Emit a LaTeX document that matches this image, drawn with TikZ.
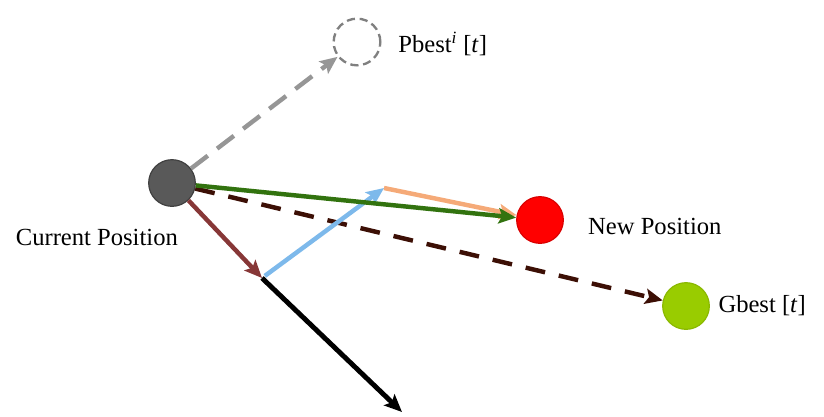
\documentclass[tikz,border=0pt]{standalone}
\usepackage{fontspec}
\setmainfont{Liberation Serif}
\usepackage{xcolor}
\usetikzlibrary{positioning,arrows.meta}

\definecolor{curgray}{RGB}{89,89,89}
\definecolor{pbgray}{RGB}{150,150,150}
\definecolor{velgreen}{RGB}{50,115,15}
\definecolor{gbbrown}{RGB}{60,15,5}
\definecolor{oldmaroon}{RGB}{135,55,55}
\definecolor{socblue}{RGB}{125,185,235}
\definecolor{cogorange}{RGB}{245,170,120}
\definecolor{gbgreen}{RGB}{153,204,0}

\tikzset{
  ptc/.style={circle,minimum size=1.4cm,inner sep=0pt,line width=1pt},
  lbl/.style={inner sep=0pt,font=\fontsize{21}{25}\selectfont},
  vec/.style={line width=3.8pt,-{Stealth[length=15pt,width=13pt,inset=3pt]}},
}

\begin{document}
\begin{tikzpicture}[x=0.03cm,y=-0.03cm]
\useasboundingbox (0,0) rectangle (824,416);
\node[ptc,fill=curgray,draw=black!75] (cur) at (172,183) {};
\node[ptc,draw=gray,dash pattern=on 7pt off 4pt,line width=2pt] (pbest) at (357,42) {};
\node[ptc,fill=red,draw=red!85!black] (newpos) at (540,220) {};
\node[ptc,fill=gbgreen,draw=gbgreen!90!black] (gbest) at (686,306) {};
\node[lbl,right=0.5cm of pbest,yshift=-0.06cm] (pbestlbl) {Pbest\textsuperscript{\textit{i}} [\textit{t}]};
\node[lbl,right=0.72cm of newpos,yshift=-0.18cm] (newposlbl) {New Position};
\node[lbl,right=0.25cm of gbest] (gbestlbl) {Gbest [\textit{t}]};
\node[lbl,below left=0.86cm and -0.69cm of cur] (curlbl) {Current Position};
\coordinate (inert) at (262,278);
\coordinate (cog) at (384,188);
\coordinate (far) at (402,412);

\draw[vec,pbgray,dash pattern=on 18pt off 10pt] (cur) -- (pbest);
\draw[vec,gbbrown,dash pattern=on 17pt off 12pt] (cur) -- (gbest);
\draw[vec,oldmaroon] (cur) -- (inert);
\draw[vec,black,line width=4.2pt] (inert) -- (far);
\draw[vec,socblue,shorten <=3pt] (inert) -- (cog);
\draw[vec,cogorange] (cog) -- (newpos);
\draw[vec,velgreen] (cur) -- (newpos);
\end{tikzpicture}
\end{document}
